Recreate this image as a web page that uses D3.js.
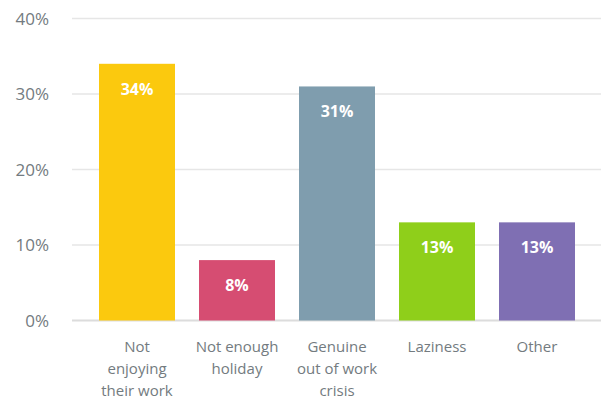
<!DOCTYPE html>
<html>
<head>
<meta charset="utf-8">
<script src="https://cdn.jsdelivr.net/npm/d3@7"></script>
<style>
  body { margin: 0; background: #fff; }
  svg { display: block; }
  text { font-family: "Open Sans", Lato, sans-serif; }
</style>
</head>
<body>
<svg id="chart" width="601" height="399"></svg>
<script>
// data
const categories = ['Not enjoying their work', 'Not enough holiday', 'Genuine out of work crisis', 'Laziness', 'Other'];
const label_lines = [['Not', 'enjoying', 'their work'], ['Not enough', 'holiday'], ['Genuine', 'out of work', 'crisis'], ['Laziness'], ['Other']];
const values = [34, 8, 31, 13, 13];
const colors = ['#FBC90E', '#D64D72', '#7F9DAE', '#8FCF1A', '#7F6FB3'];
const y_ticks = [0, 10, 20, 30, 40];

const svg = d3.select('#chart');

const x_scale = d3.scaleBand()
  .domain(categories)
  .range([87, 587])
  .paddingInner(0.24)
  .paddingOuter(0.12);

const y_scale = d3.scaleLinear()
  .domain([0, 40])
  .range([320.5, 18.5]);

// grid + tick labels
const grid = svg.append('g');
grid.selectAll('line')
  .data(y_ticks)
  .enter()
  .append('line')
  .attr('x1', 72)
  .attr('x2', 601)
  .attr('y1', d => y_scale(d))
  .attr('y2', d => y_scale(d))
  .attr('stroke', d => d === 0 ? '#dcdcdc' : '#e6e6e6')
  .attr('stroke-width', d => d === 0 ? 2 : 1.5);

grid.selectAll('text')
  .data(y_ticks)
  .enter()
  .append('text')
  .attr('x', 49)
  .attr('y', d => y_scale(d))
  .attr('dy', '0.36em')
  .attr('text-anchor', 'end')
  .attr('font-size', 17)
  .attr('fill', '#737b80')
  .text(d => d + '%');

// bars
svg.append('g')
  .selectAll('rect')
  .data(values)
  .enter()
  .append('rect')
  .attr('x', (d, i) => x_scale(categories[i]))
  .attr('width', x_scale.bandwidth())
  .attr('y', d => y_scale(d))
  .attr('height', d => y_scale(0) - y_scale(d))
  .attr('fill', (d, i) => colors[i]);

// value labels
svg.append('g')
  .selectAll('text')
  .data(values)
  .enter()
  .append('text')
  .attr('x', (d, i) => x_scale(categories[i]) + x_scale.bandwidth() / 2)
  .attr('y', d => y_scale(d) + 25)
  .attr('dy', '0.36em')
  .attr('text-anchor', 'middle')
  .attr('font-size', 16)
  .attr('font-weight', 'bold')
  .attr('fill', '#fff')
  .text(d => d + '%');

// category labels
const cat = svg.append('g')
  .selectAll('text')
  .data(label_lines)
  .enter()
  .append('text')
  .attr('text-anchor', 'middle')
  .attr('font-size', 15)
  .attr('fill', '#737b80');

cat.selectAll('tspan')
  .data((d, i) => d.map(line => ({ line, i })))
  .enter()
  .append('tspan')
  .attr('x', d => x_scale(categories[d.i]) + x_scale.bandwidth() / 2)
  .attr('y', (d, j) => 347 + j * 22)
  .attr('dy', '0.36em')
  .text(d => d.line);
</script>
</body>
</html>
